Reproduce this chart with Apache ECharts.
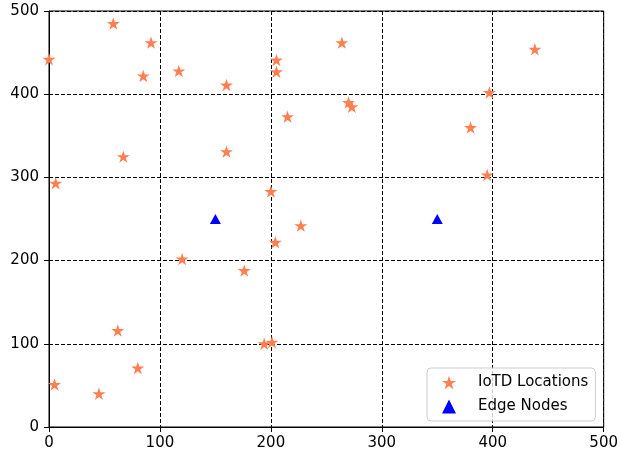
<!DOCTYPE html>
<html>
<head>
<meta charset="utf-8">
<script src="https://cdn.jsdelivr.net/npm/echarts@6/dist/echarts.min.js"></script>
<style>
  html, body { margin: 0; padding: 0; background: #fff; }
  #chart { width: 621px; height: 453px; }
</style>
</head>
<body>
<div id="chart"></div>
<script>
// IoTD locations (x, y)
const iotdX = [0, 58, 92, 85, 117, 160, 205, 205, 215, 264, 270, 273, 438, 397, 380, 395,
               67, 160, 6, 200, 227, 204, 120, 176, 62, 194, 201, 80, 5, 45];
const iotdY = [442, 485, 462, 422, 428, 411, 441, 427, 373, 462, 390, 385, 454, 402, 360, 303,
               325, 331, 293, 283, 242, 222, 202, 188, 116, 100, 102, 71, 51, 40];

// edge nodes
const edgeX = [150, 350];
const edgeY = [250, 250];

const axisTicks = [0, 100, 200, 300, 400, 500];

const starPath = 'path://M50 0 L61.2 34.5 L97.5 34.5 L68.2 55.9 L79.4 90.5 L50 69.1 L20.6 90.5 L31.8 55.9 L2.5 34.5 L38.8 34.5 Z';

const zip = (xs, ys) => xs.map((x, i) => [x, ys[i]]);

const font = 'DejaVu Sans';

function valueAxis(margin) {
    return {
        type: 'value',
        min: axisTicks[0],
        max: axisTicks[axisTicks.length - 1],
        interval: 100,
        axisLine: { show: true, lineStyle: { color: '#000', width: 1 } },
        axisTick: { show: true, length: 5, lineStyle: { color: '#000' } },
        axisLabel: { color: '#000', fontSize: 15, fontFamily: font, margin: margin },
        splitLine: { show: true, lineStyle: { color: '#000', type: [4, 2], width: 1 } }
    };
}

let chart = echarts.init(document.getElementById('chart'));

let option = {
    animation: false,
    grid: {
        left: 49, top: 11, right: 15, bottom: 26,
        show: true, borderColor: '#000', borderWidth: 1
    },
    xAxis: valueAxis(9),
    yAxis: valueAxis(10),
    legend: {
        orient: 'vertical',
        left: 427, top: 368,
        padding: [7, 7, 7, 15],
        itemWidth: 14, itemHeight: 14, itemGap: 9,
        borderColor: '#ccc', borderWidth: 1, borderRadius: 4,
        backgroundColor: 'rgba(255,255,255,0.8)',
        textStyle: { color: '#000', fontSize: 15, fontFamily: font, padding: [0, 0, 0, 17] },
        data: ['IoTD Locations', 'Edge Nodes']
    },
    series: [
        {
            name: 'IoTD Locations',
            type: 'scatter',
            symbol: starPath,
            symbolSize: [13, 12.4],
            itemStyle: { color: '#FF7F50', opacity: 1 },
            data: zip(iotdX, iotdY)
        },
        {
            name: 'Edge Nodes',
            type: 'scatter',
            symbol: 'triangle',
            symbolSize: [11, 10],
            itemStyle: { color: '#0000FF', opacity: 1 },
            data: zip(edgeX, edgeY)
        }
    ]
};

chart.setOption(option);
</script>
</body>
</html>
